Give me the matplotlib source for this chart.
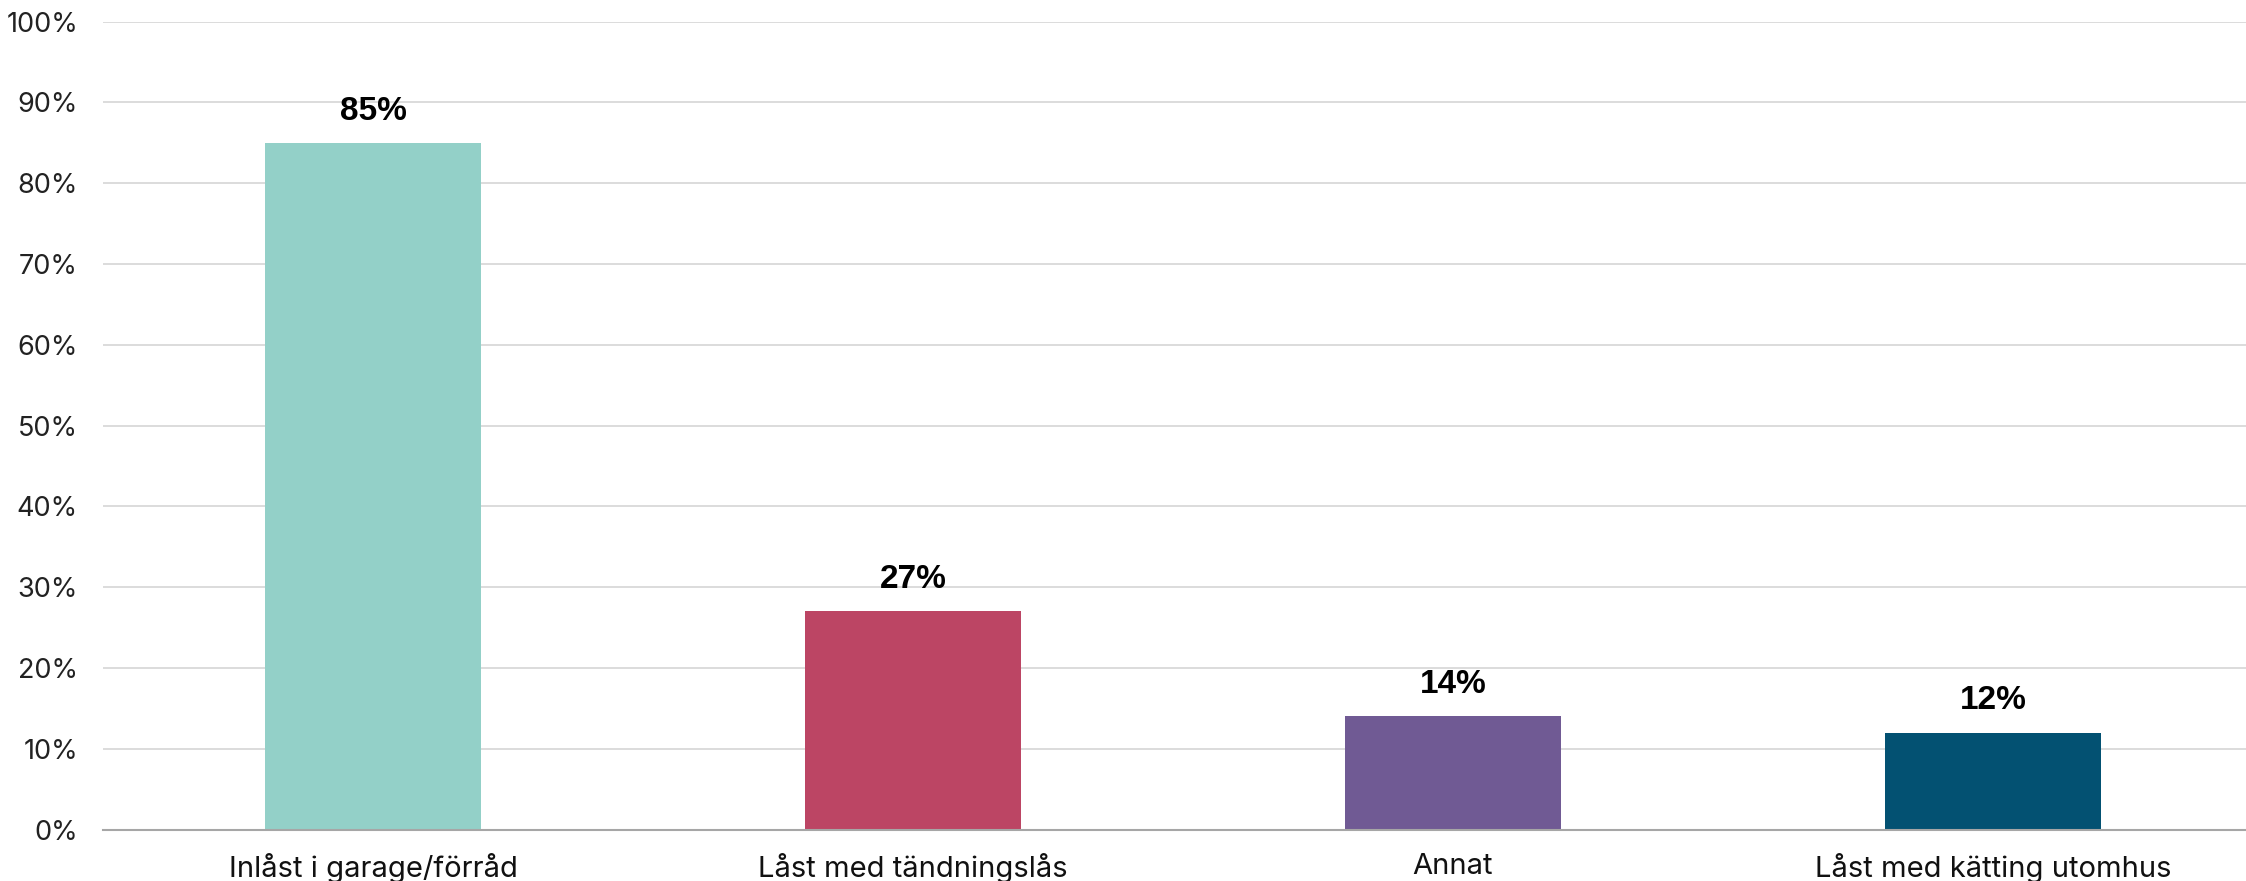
import matplotlib.pyplot as plt
import numpy as np

categories = ['Inlåst i garage/förråd', 'Låst med tändningslås', 'Annat', 'Låst med kätting utomhus']
values = [85, 27, 14, 12]
colors = ['#93D0C8', '#BC4564', '#705A94', '#035172']
yticks = list(range(0, 101, 10))

plt.rcParams['font.family'] = ['Inter', 'DejaVu Sans']

fig = plt.figure(figsize=(22.46, 8.81), dpi=100)
# axes run a bit past the right edge, like in the original
ax = fig.add_axes([103 / 2246, 1 - 829.5 / 881, (2263 - 103) / 2246, (829.5 - 21.5) / 881])

x = np.arange(len(categories))
ax.bar(x, values, width=0.4, color=colors, zorder=3)
for xi, v in zip(x, values):
    ax.text(xi, v + 2.0, f'{v}%', ha='center', va='bottom', fontsize=24, fontweight='bold',
            family=['Liberation Sans', 'DejaVu Sans'], color='black')

ax.set_xlim(-0.5, len(categories) - 0.5)
ax.set_ylim(0, 100)
ax.set_yticks(yticks)
ax.set_yticklabels([f'{t}%' for t in yticks], fontsize=19.5, color='#222222')
ax.set_xticks(x)
ax.set_xticklabels(categories, fontsize=21, color='#111111')
ax.tick_params(axis='x', length=0, pad=17)
ax.tick_params(axis='y', length=0, pad=18)
ax.grid(axis='y', color='#d9d9d9', linewidth=1.3, zorder=0)
for s in ['top', 'right', 'left']:
    ax.spines[s].set_visible(False)
ax.spines['bottom'].set_color('#a6a6a6')
ax.spines['bottom'].set_linewidth(1.5)
ax.spines['bottom'].set_zorder(4)

fig.savefig('out.png', dpi=100)
